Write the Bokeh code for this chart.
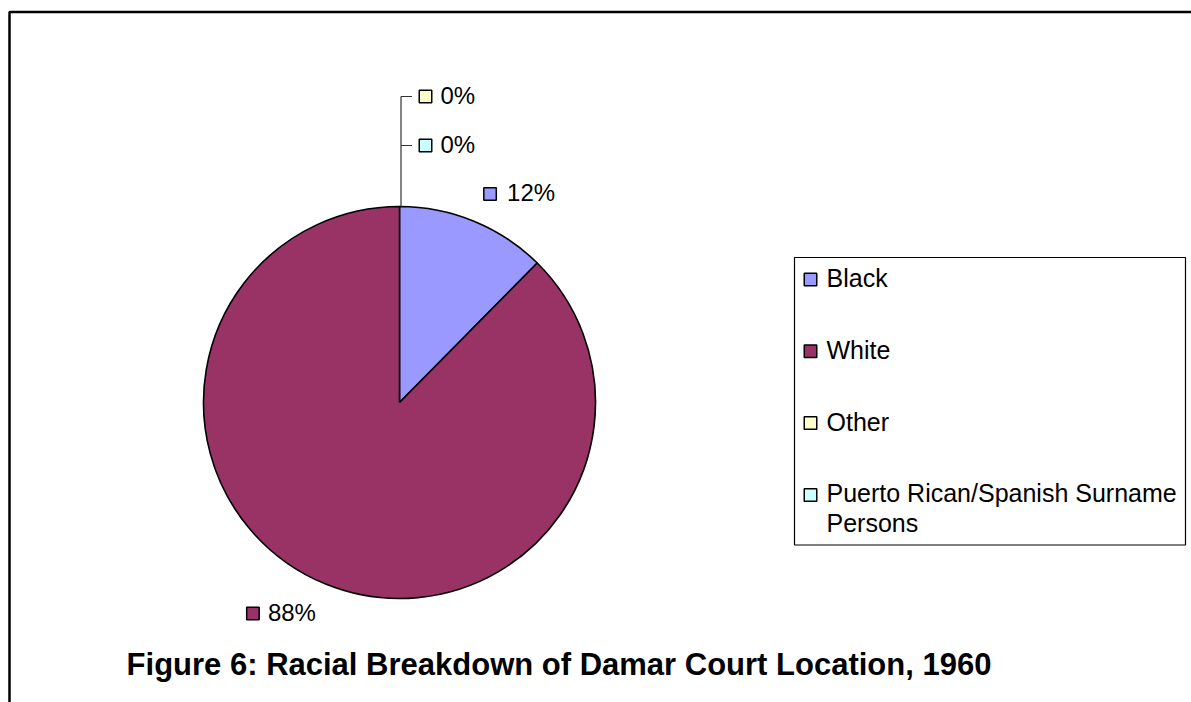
import textwrap
import numpy as np
from bokeh.plotting import figure
from bokeh.models import Range1d, ColumnDataSource
from bokeh.core.properties import value
from bokeh.embed import file_html
from bokeh.resources import INLINE

# ---------------- data ----------------
categories = ["Black", "White", "Other", "Puerto Rican/Spanish Surname Persons"]
shares = [12.4, 87.6, 0.0, 0.0]
colors = ["#9999FF", "#993366", "#FFFFCC", "#CCFFFF"]
title_text = "Figure 6: Racial Breakdown of Damar Court Location, 1960"

# ---------------- layout ----------------
W, H = 1191, 702
FONT = "Liberation Sans"
CX, CY, R = 399, 402, 196
LABEL_FS = 24
LEGEND_FS = 25
TXT_SHIFT = -1.5   # text baseline offset relative to marker centre (px, down positive)


def Y(py):
    return H - py


p = figure(width=W, height=H, x_range=Range1d(0, W), y_range=Range1d(0, H),
           output_backend="svg", toolbar_location=None,
           x_axis_type=None, y_axis_type=None, min_border=0)
p.grid.visible = False
p.outline_line_color = None
p.background_fill_color = "white"
p.border_fill_color = "white"

# outer chart frame
p.quad(left=9, right=W + 20, top=Y(11.5), bottom=-20,
       fill_color=None, line_color="black", line_width=2.5)

# ---------------- pie ----------------
frac = np.array(shares) / sum(shares)
cum_end = np.cumsum(frac)
cum_start = cum_end - frac
start = np.pi / 2 - cum_end * 2 * np.pi
end = np.pi / 2 - cum_start * 2 * np.pi
nz = frac > 0
src = ColumnDataSource(dict(start=start[nz], end=end[nz],
                            color=list(np.array(colors)[nz])))
p.wedge(x=CX, y=Y(CY), radius=R, start_angle="start", end_angle="end",
        fill_color="color", line_color="black", line_width=1.6, source=src)

# ---------------- data labels ----------------
sq_x, sq_y, sq_c = [], [], []
tx, ty, tt, ta = [], [], [], []
lab = [f"{round(f * 100):.0f}%" for f in frac]

d = 220
for i, f in enumerate(frac):
    if f <= 0:
        continue
    mid = (cum_start[i] + cum_end[i]) * np.pi
    px = CX + d * np.sin(mid)
    py = CY - d * np.cos(mid)
    cy = py - 5 if np.cos(mid) > 0 else py + 7.5
    if np.sin(mid) >= 0:
        sx = px + 7
        tx.append(px + 24); ta.append("left")
    else:
        tw = LABEL_FS * (0.556 * (len(lab[i]) - 1) + 0.889)
        sx = px - tw - 15
        tx.append(px); ta.append("right")
    sq_x.append(sx); sq_y.append(Y(cy)); sq_c.append(colors[i])
    ty.append(Y(cy + TXT_SHIFT)); tt.append(lab[i])

# zero slices: stacked labels with leader line above the pie top
zero_idx = [i for i, f in enumerate(frac) if f <= 0]
top_py = CY - R
ys = []
for j, i in enumerate(reversed(zero_idx)):
    yy = top_py - 61 - 49 * j
    ys.append(yy)
    sq_x.append(CX + 26); sq_y.append(Y(yy)); sq_c.append(colors[i])
    tx.append(CX + 41); ty.append(Y(yy + TXT_SHIFT)); tt.append(lab[i]); ta.append("left")
if ys:
    lx = CX + 1.5
    p.segment(x0=[lx], y0=[Y(top_py)], x1=[lx], y1=[Y(min(ys))],
              line_color="#333333", line_width=1.2)
    p.segment(x0=[lx] * len(ys), y0=[Y(v) for v in ys],
              x1=[lx + 11] * len(ys), y1=[Y(v) for v in ys],
              line_color="#333333", line_width=1.2)

p.rect(x=sq_x, y=sq_y, width=12.5, height=12.5, fill_color=sq_c,
       line_color="black", line_width=1.5)
p.text(x=tx, y=ty, text=tt, text_align=ta, text_baseline="alphabetic",
       text_font=value(FONT), text_font_size=f"{LABEL_FS}px", text_color="black")

# ---------------- legend ----------------
p.quad(left=794, right=1185, top=Y(257), bottom=Y(544.5),
       fill_color="white", line_color="black", line_width=1.2)
lg_x, lg_y, lg_c = [], [], []
lt_x, lt_y, lt_t = [], [], []
for k, (cat, col) in enumerate(zip(categories, colors)):
    cy = 279 + 71.8 * k
    lg_x.append(810); lg_y.append(Y(cy)); lg_c.append(col)
    for n, line in enumerate(textwrap.wrap(cat, 28)):
        lt_x.append(826); lt_y.append(Y(cy + TXT_SHIFT + 30 * n)); lt_t.append(line)
p.rect(x=lg_x, y=lg_y, width=12.5, height=12.5, fill_color=lg_c,
       line_color="black", line_width=1.5)
p.text(x=lt_x, y=lt_y, text=lt_t, text_align="left", text_baseline="alphabetic",
       text_font=value(FONT), text_font_size=f"{LEGEND_FS}px", text_color="black")

# ---------------- title ----------------
p.text(x=[558.5], y=[Y(664)], text=[title_text], text_align="center",
       text_baseline="alphabetic", text_font=value(FONT), text_font_size="31px",
       text_font_style="bold", text_color="black")

open("out.html", "w").write(file_html(p, INLINE))
